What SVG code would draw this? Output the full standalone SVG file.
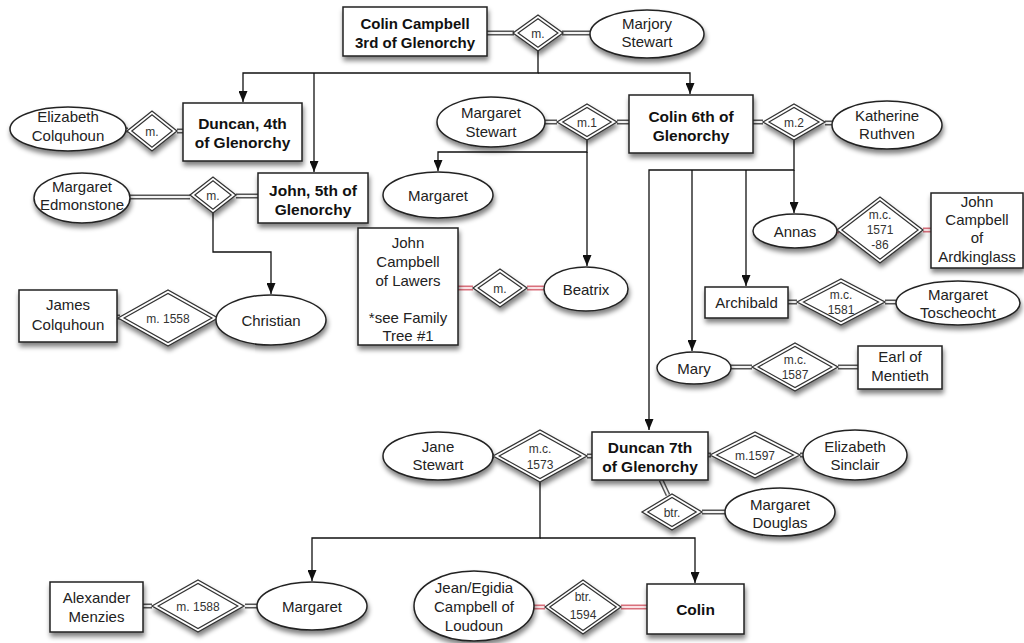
<svg xmlns="http://www.w3.org/2000/svg" width="1024" height="643" viewBox="0 0 1024 643">
<defs>
<style>
.nd{fill:#fff;stroke:#222;stroke-width:1.5}
.di{fill:#fff;stroke:#333;stroke-width:1.3}
.dn{fill:none;stroke:#333;stroke-width:1.2}
.t{font-family:"Liberation Sans",Arial,Helvetica,sans-serif;font-size:15px;fill:#222;text-anchor:middle}
.b{font-weight:bold;font-size:15.5px;fill:#111}
.s{font-size:12px;fill:#333}
.e{fill:none;stroke:#111;stroke-width:1.3}
.d1{stroke:#555;stroke-width:5;fill:none}
.d2{stroke:#f4f4f4;stroke-width:2;fill:none}
.r1{stroke:#d9707c;stroke-width:5;fill:none}
.r2{stroke:#fbe3e6;stroke-width:2;fill:none}
</style>
<marker id="ar" viewBox="0 0 11 9" markerWidth="11" markerHeight="9" refX="11" refY="4.5" markerUnits="userSpaceOnUse" orient="auto"><path d="M0,0 L11,4.5 L0,9 z" fill="#111"/></marker>
<filter id="sh" x="-20%" y="-20%" width="150%" height="170%"><feGaussianBlur in="SourceAlpha" stdDeviation="2.5"/><feOffset dx="1" dy="4" result="o"/><feComponentTransfer><feFuncA type="linear" slope="0.5"/></feComponentTransfer><feMerge><feMergeNode/><feMergeNode in="SourceGraphic"/></feMerge></filter>
</defs>
<rect width="1024" height="643" fill="#fff"/>
<g id="connectors">
<g class="d1">
<path d="M487,33H514M562,33H590M124,130H128M177,131H183M129,197H190M236,196H258M114,317H120M216,319H220M544,122H557M617,122H629M753,122H763M825,123H833M788,302H797M885,302H896M730,367H752M838,367H858M490,456H494M587,456H592M708,455H711M800,455H804M661,480L668,495M702,512H726M143,606H152M245,606H258"/>
</g>
<g class="d2">
<path d="M487,33H514M562,33H590M124,130H128M177,131H183M129,197H190M236,196H258M114,317H120M216,319H220M544,122H557M617,122H629M753,122H763M825,123H833M788,302H797M885,302H896M730,367H752M838,367H858M490,456H494M587,456H592M708,455H711M800,455H804M661,480L668,495M702,512H726M143,606H152M245,606H258"/>
</g>
<path class="r1" d="M458,288H473M527,288H544M835,231H839M923,230H931M533,607H545M621,607H647"/>
<path class="r2" d="M458,288H473M527,288H544M835,231H839M923,230H931M533,607H545M621,607H647"/>
<path class="e" d="M538,51V73H243V102" marker-end="url(#ar)"/>
<path class="e" d="M538,73H690V94" marker-end="url(#ar)"/>
<path class="e" d="M314,73V172" marker-end="url(#ar)"/>
<path class="e" d="M213,213V252H271V294" marker-end="url(#ar)"/>
<path class="e" d="M587,140V152H438V171" marker-end="url(#ar)"/>
<path class="e" d="M587,152V266" marker-end="url(#ar)"/>
<path class="e" d="M794,140V170H649V430" marker-end="url(#ar)"/>
<path class="e" d="M794,170V213" marker-end="url(#ar)"/>
<path class="e" d="M746,170V286" marker-end="url(#ar)"/>
<path class="e" d="M692,170V351" marker-end="url(#ar)"/>
<path class="e" d="M540,482V538H312V581" marker-end="url(#ar)"/>
<path class="e" d="M540,538H695V583" marker-end="url(#ar)"/>
</g>

<g id="colin3"><rect class="nd" filter="url(#sh)" x="343" y="7" width="144" height="49"/><text class="t b" x="415" y="29" style="font-size:15px">Colin Campbell</text><text class="t b" x="415" y="48" style="font-size:15px">3rd of Glenorchy</text></g>
<g id="m-top"><polygon class="di" filter="url(#sh)" points="513,33 538,15 563,33 538,51"/><polygon class="dn" points="518.1,33 538,18.7 557.9,33 538,47.3"/><text class="t s" x="538" y="37.5">m.</text></g>
<g id="marjory"><ellipse class="nd" filter="url(#sh)" cx="647" cy="34" rx="57" ry="24"/><text class="t" x="647" y="29">Marjory</text><text class="t" x="647" y="47">Stewart</text></g>

<g id="elizabeth-c"><ellipse class="nd" filter="url(#sh)" cx="68" cy="129" rx="58" ry="22"/><text class="t" x="68" y="122">Elizabeth</text><text class="t" x="68" y="141">Colquhoun</text></g>
<g id="m-duncan4"><polygon class="di" filter="url(#sh)" points="127,131 152,111 177,131 152,151"/><polygon class="dn" points="131.8,131 152,114.8 172.2,131 152,147.2"/><text class="t s" x="152" y="135.5">m.</text></g>
<g id="duncan4"><rect class="nd" filter="url(#sh)" x="183" y="103" width="119" height="58"/><text class="t b" x="242.5" y="128.5">Duncan, 4th</text><text class="t b" x="242.5" y="147.5">of Glenorchy</text></g>

<g id="margaret-e"><ellipse class="nd" filter="url(#sh)" cx="82" cy="198" rx="48" ry="25"/><text class="t" x="82" y="192">Margaret</text><text class="t" x="82" y="210">Edmonstone</text></g>
<g id="m-john5"><polygon class="di" filter="url(#sh)" points="190,195 213,177 236,195 213,213"/><polygon class="dn" points="194.9,195 213,180.8 231.1,195 213,209.2"/><text class="t s" x="213" y="199.5">m.</text></g>
<g id="john5"><rect class="nd" filter="url(#sh)" x="258" y="173" width="110" height="50"/><text class="t b" x="313" y="195.5">John, 5th of</text><text class="t b" x="313" y="214.5">Glenorchy</text></g>

<g id="james"><rect class="nd" filter="url(#sh)" x="19" y="290" width="98" height="52"/><text class="t" x="68" y="310">James</text><text class="t" x="68" y="330">Colquhoun</text></g>
<g id="m-1558"><polygon class="di" filter="url(#sh)" points="118,318 168,290 218,318 168,346"/><polygon class="dn" points="124.1,318 168,293.4 211.9,318 168,342.6"/><text class="t s" x="168" y="322.5">m. 1558</text></g>
<g id="christian"><ellipse class="nd" filter="url(#sh)" cx="271" cy="320" rx="55" ry="25"/><text class="t" x="271" y="325.5">Christian</text></g>

<g id="margaret-s"><ellipse class="nd" filter="url(#sh)" cx="491" cy="122" rx="54" ry="25"/><text class="t" x="491" y="118">Margaret</text><text class="t" x="491" y="137">Stewart</text></g>
<g id="m1"><polygon class="di" filter="url(#sh)" points="557,122 587,104 617,122 587,140"/><polygon class="dn" points="562.8,122 587,107.5 611.2,122 587,136.5"/><text class="t s" x="587" y="126.5">m.1</text></g>
<g id="colin6"><rect class="nd" filter="url(#sh)" x="629" y="95" width="124" height="58"/><text class="t b" x="691" y="121.5">Colin 6th of</text><text class="t b" x="691" y="140.5">Glenorchy</text></g>
<g id="m2"><polygon class="di" filter="url(#sh)" points="763,122 794,104 825,122 794,140"/><polygon class="dn" points="769,122 794,107.5 819,122 794,136.5"/><text class="t s" x="794" y="126.5">m.2</text></g>
<g id="katherine"><ellipse class="nd" filter="url(#sh)" cx="887" cy="125" rx="55" ry="24"/><text class="t" x="887" y="121">Katherine</text><text class="t" x="887" y="139">Ruthven</text></g>

<g id="margaret-d1"><ellipse class="nd" filter="url(#sh)" cx="438" cy="195" rx="55" ry="23"/><text class="t" x="438" y="200.5">Margaret</text></g>
<g id="lawers"><rect class="nd" filter="url(#sh)" x="358" y="228" width="100" height="117"/><text class="t" x="408" y="248">John</text><text class="t" x="408" y="267">Campbell</text><text class="t" x="408" y="286">of Lawers</text><text class="t" x="408" y="323">*see Family</text><text class="t" x="408" y="341">Tree #1</text></g>
<g id="m-beatrix"><polygon class="di" filter="url(#sh)" points="473,288 500,269 527,288 500,307"/><polygon class="dn" points="478.2,288 500,272.7 521.8,288 500,303.3"/><text class="t s" x="500" y="292.5">m.</text></g>
<g id="beatrix"><ellipse class="nd" filter="url(#sh)" cx="586" cy="289" rx="42" ry="22"/><text class="t" x="586" y="294.5">Beatrix</text></g>

<g id="annas"><ellipse class="nd" filter="url(#sh)" cx="795" cy="231" rx="42" ry="17"/><text class="t" x="795" y="236.5">Annas</text></g>
<g id="m-1571"><polygon class="di" filter="url(#sh)" points="837,230 880,197 923,230 880,263"/><polygon class="dn" points="841.9,230 880,200.8 918.1,230 880,259.2"/><text class="t s" x="880" y="219">m.c.</text><text class="t s" x="880" y="234">1571</text><text class="t s" x="880" y="249">-86</text></g>
<g id="ardkinglass"><rect class="nd" filter="url(#sh)" x="931" y="193" width="92" height="75"/><text class="t" x="977" y="207">John</text><text class="t" x="977" y="225">Campbell</text><text class="t" x="977" y="243">of</text><text class="t" x="977" y="262">Ardkinglass</text></g>

<g id="archibald"><rect class="nd" filter="url(#sh)" x="705" y="287" width="83" height="31"/><text class="t" x="746.5" y="308">Archibald</text></g>
<g id="m-1581"><polygon class="di" filter="url(#sh)" points="797,302 841,279 885,302 841,325"/><polygon class="dn" points="803.5,302 841,282.4 878.5,302 841,321.6"/><text class="t s" x="841" y="299">m.c.</text><text class="t s" x="841" y="314">1581</text></g>
<g id="toscheocht"><ellipse class="nd" filter="url(#sh)" cx="958" cy="303" rx="62" ry="22"/><text class="t" x="958" y="300">Margaret</text><text class="t" x="958" y="318">Toscheocht</text></g>

<g id="mary"><ellipse class="nd" filter="url(#sh)" cx="694" cy="368" rx="37" ry="16"/><text class="t" x="694" y="373.5">Mary</text></g>
<g id="m-1587"><polygon class="di" filter="url(#sh)" points="752,367 795,343 838,367 795,391"/><polygon class="dn" points="758.2,367 795,346.4 831.8,367 795,387.6"/><text class="t s" x="795" y="364">m.c.</text><text class="t s" x="795" y="379">1587</text></g>
<g id="mentieth"><rect class="nd" filter="url(#sh)" x="858" y="346" width="84" height="43"/><text class="t" x="900" y="362">Earl of</text><text class="t" x="900" y="381">Mentieth</text></g>

<g id="jane"><ellipse class="nd" filter="url(#sh)" cx="438" cy="456" rx="55" ry="24"/><text class="t" x="438" y="452">Jane</text><text class="t" x="438" y="470">Stewart</text></g>
<g id="m-1573"><polygon class="di" filter="url(#sh)" points="493,456 540,430 587,456 540,482"/><polygon class="dn" points="499.2,456 540,433.4 580.8,456 540,478.6"/><text class="t s" x="540" y="453">m.c.</text><text class="t s" x="540" y="469">1573</text></g>
<g id="duncan7"><rect class="nd" filter="url(#sh)" x="592" y="432" width="116" height="48"/><text class="t b" x="650" y="452.5">Duncan 7th</text><text class="t b" x="650" y="471.5">of Glenorchy</text></g>
<g id="m-1597"><polygon class="di" filter="url(#sh)" points="710,455 755,432 800,455 755,478"/><polygon class="dn" points="716.6,455 755,435.4 793.4,455 755,474.6"/><text class="t s" x="755" y="459.5">m.1597</text></g>
<g id="sinclair"><ellipse class="nd" filter="url(#sh)" cx="855" cy="455" rx="52" ry="25"/><text class="t" x="855" y="452">Elizabeth</text><text class="t" x="855" y="470">Sinclair</text></g>
<g id="btr-douglas"><polygon class="di" filter="url(#sh)" points="642,512 672,494 702,512 672,530"/><polygon class="dn" points="647.8,512 672,497.5 696.2,512 672,526.5"/><text class="t s" x="672" y="516.5">btr.</text></g>
<g id="douglas"><ellipse class="nd" filter="url(#sh)" cx="780" cy="512" rx="55" ry="24"/><text class="t" x="780" y="510">Margaret</text><text class="t" x="780" y="528">Douglas</text></g>

<g id="menzies"><rect class="nd" filter="url(#sh)" x="50" y="582" width="93" height="50"/><text class="t" x="96.5" y="603">Alexander</text><text class="t" x="96.5" y="622">Menzies</text></g>
<g id="m-1588"><polygon class="di" filter="url(#sh)" points="152,606 198,580 244,606 198,632"/><polygon class="dn" points="158.2,606 198,583.4 237.8,606 198,628.6"/><text class="t s" x="198" y="610.5">m. 1588</text></g>
<g id="margaret-d2"><ellipse class="nd" filter="url(#sh)" cx="312" cy="606" rx="55" ry="24"/><text class="t" x="312" y="611.5">Margaret</text></g>
<g id="jean"><ellipse class="nd" filter="url(#sh)" cx="474" cy="606" rx="60" ry="35"/><text class="t" x="474" y="593">Jean/Egidia</text><text class="t" x="474" y="612">Campbell of</text><text class="t" x="474" y="631">Loudoun</text></g>
<g id="btr-1594"><polygon class="di" filter="url(#sh)" points="545,607 583,580 621,607 583,634"/><polygon class="dn" points="549.8,607 583,583.4 616.2,607 583,630.6"/><text class="t s" x="583" y="601">btr.</text><text class="t s" x="583" y="619">1594</text></g>
<g id="colin"><rect class="nd" filter="url(#sh)" x="647" y="584" width="97" height="50"/><text class="t b" x="695.5" y="614.5">Colin</text></g>
</svg>
